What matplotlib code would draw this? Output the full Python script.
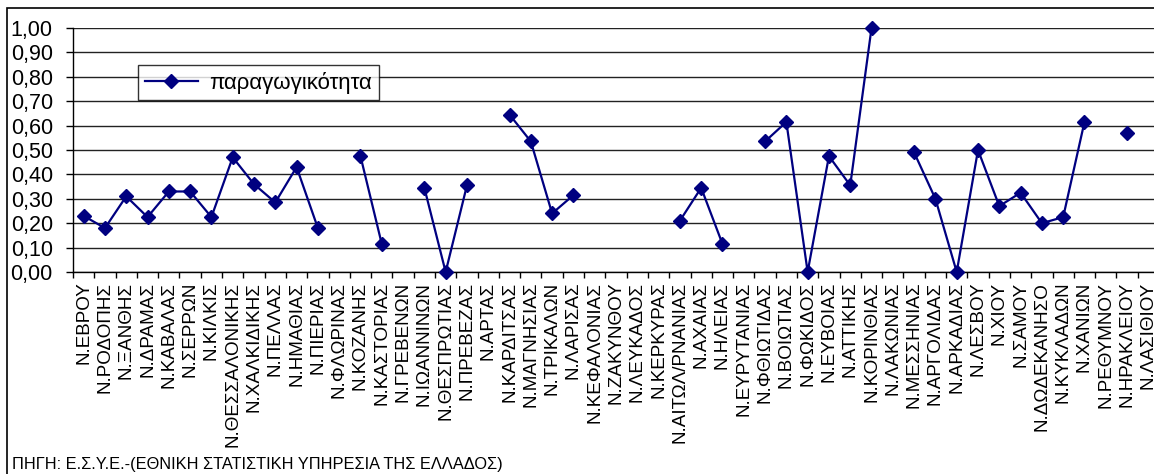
import matplotlib
matplotlib.use('Agg')
import matplotlib.pyplot as plt
import numpy as np
from matplotlib.ticker import FuncFormatter, MultipleLocator
from matplotlib.patches import Rectangle

plt.rcParams['font.family'] = ['Liberation Sans', 'DejaVu Sans']

# nomoi (prefectures) and productivity, None = no value
nomoi = ['Ν.ΕΒΡΟΥ', 'Ν.ΡΟΔΟΠΗΣ', 'Ν.ΞΑΝΘΗΣ', 'Ν.ΔΡΑΜΑΣ', 'Ν.ΚΑΒΑΛΑΣ', 'Ν.ΣΕΡΡΩΝ',
         'Ν.ΚΙΛΚΙΣ', 'Ν.ΘΕΣΣΑΛΟΝΙΚΗΣ', 'Ν.ΧΑΛΚΙΔΙΚΗΣ', 'Ν.ΠΕΛΛΑΣ', 'Ν.ΗΜΑΘΙΑΣ',
         'Ν.ΠΙΕΡΙΑΣ', 'Ν.ΦΛΩΡΙΝΑΣ', 'Ν.ΚΟΖΑΝΗΣ', 'Ν.ΚΑΣΤΟΡΙΑΣ', 'Ν.ΓΡΕΒΕΝΩΝ',
         'Ν.ΙΩΑΝΝΙΝΩΝ', 'Ν.ΘΕΣΠΡΩΤΙΑΣ', 'Ν.ΠΡΕΒΕΖΑΣ', 'Ν.ΑΡΤΑΣ', 'Ν.ΚΑΡΔΙΤΣΑΣ',
         'Ν.ΜΑΓΝΗΣΙΑΣ', 'Ν.ΤΡΙΚΑΛΩΝ', 'Ν.ΛΑΡΙΣΑΣ', 'Ν.ΚΕΦΑΛΟΝΙΑΣ', 'Ν.ΖΑΚΥΝΘΟΥ',
         'Ν.ΛΕΥΚΑΔΟΣ', 'Ν.ΚΕΡΚΥΡΑΣ', 'Ν.ΑΙΤΩΛ/ΡΝΑΝΙΑΣ', 'Ν.ΑΧΑΙΑΣ', 'Ν.ΗΛΕΙΑΣ',
         'Ν.ΕΥΡΥΤΑΝΙΑΣ', 'Ν.ΦΘΙΩΤΙΔΑΣ', 'Ν.ΒΟΙΩΤΙΑΣ', 'Ν.ΦΩΚΙΔΟΣ', 'Ν.ΕΥΒΟΙΑΣ',
         'Ν.ΑΤΤΙΚΗΣ', 'Ν.ΚΟΡΙΝΘΙΑΣ', 'Ν.ΛΑΚΩΝΙΑΣ', 'Ν.ΜΕΣΣΗΝΙΑΣ', 'Ν.ΑΡΓΟΛΙΔΑΣ',
         'Ν.ΑΡΚΑΔΙΑΣ', 'Ν.ΛΕΣΒΟΥ', 'Ν.ΧΙΟΥ', 'Ν.ΣΑΜΟΥ', 'Ν.ΔΩΔΕΚΑΝΗΣΟ',
         'Ν.ΚΥΚΛΑΔΩΝ', 'Ν.ΧΑΝΙΩΝ', 'Ν.ΡΕΘΥΜΝΟΥ', 'Ν.ΗΡΑΚΛΕΙΟΥ', 'Ν.ΛΑΣΙΘΙΟΥ']

paragogikotita = [0.23, 0.18, 0.31, 0.225, 0.33, 0.33,
                  0.225, 0.47, 0.36, 0.285, 0.43,
                  0.18, None, 0.475, 0.115, None,
                  0.345, 0.00, 0.355, None, 0.645,
                  0.535, 0.24, 0.315, None, None,
                  None, None, 0.21, 0.345, 0.115,
                  None, 0.535, 0.615, 0.00, 0.475,
                  0.355, 1.00, None, 0.49, 0.30,
                  0.00, 0.50, 0.27, 0.325, 0.20,
                  0.225, 0.615, None, 0.57, None]

y = np.array([np.nan if v is None else v for v in paragogikotita])
x = np.arange(len(nomoi))

W, H = 1154, 474
fig = plt.figure(figsize=(W / 100, H / 100), dpi=100)
ax = fig.add_axes([73 / W, 1 - 272 / H, (1159 - 73) / W, (272 - 28) / H])

ax.plot(x, y, color='#000080', lw=1.6, marker='D', markersize=7.5,
        label='παραγωγικότητα', clip_on=False, zorder=3)

ax.set_xlim(-0.5, len(nomoi) - 0.5)
ax.set_ylim(0, 1.0)
ax.yaxis.set_major_locator(MultipleLocator(0.1))
ax.yaxis.set_major_formatter(FuncFormatter(lambda v, p: ('%.2f' % v).replace('.', ',')))
ax.grid(axis='y', color='#222222', lw=1.0)
ax.set_axisbelow(True)

ax.set_xticks(x)
ax.set_xticklabels(nomoi, rotation=90, fontsize=13.6)
ax.set_xticks(np.arange(len(nomoi) + 1) - 0.5, minor=True)
ax.tick_params(axis='x', which='major', length=0, pad=7)
ax.tick_params(axis='x', which='minor', length=4.5, width=1, direction='out')
ax.tick_params(axis='y', labelsize=15.5, length=5, width=1, pad=9.5)

for s in ['top', 'right']:
    ax.spines[s].set_visible(False)
ax.spines['left'].set_linewidth(1)
ax.spines['bottom'].set_linewidth(1)

leg = fig.legend(loc='upper left', bbox_to_anchor=(138 / W, 1 - 65 / H),
                 fontsize=16, frameon=True, fancybox=False, borderpad=0.3,
                 handlelength=2.4, handletextpad=0.5, borderaxespad=0)
leg.get_frame().set_edgecolor('black')
leg.get_frame().set_linewidth(1)

# outer frame of the chart
fig.patches.append(Rectangle((7 / W, -0.1), 1.2, 1 - 8 / H + 0.1, transform=fig.transFigure,
                             fill=False, edgecolor='black', lw=1.2))

fig.text(12 / W, 1 - 465 / H, 'ΠΗΓΗ: Ε.Σ.Υ.Ε.-(ΕΘΝΙΚΗ ΣΤΑΤΙΣΤΙΚΗ ΥΠΗΡΕΣΙΑ ΤΗΣ ΕΛΛΑΔΟΣ)',
         fontsize=11.8, va='center', ha='left')

fig.savefig('out.png', dpi=100)
